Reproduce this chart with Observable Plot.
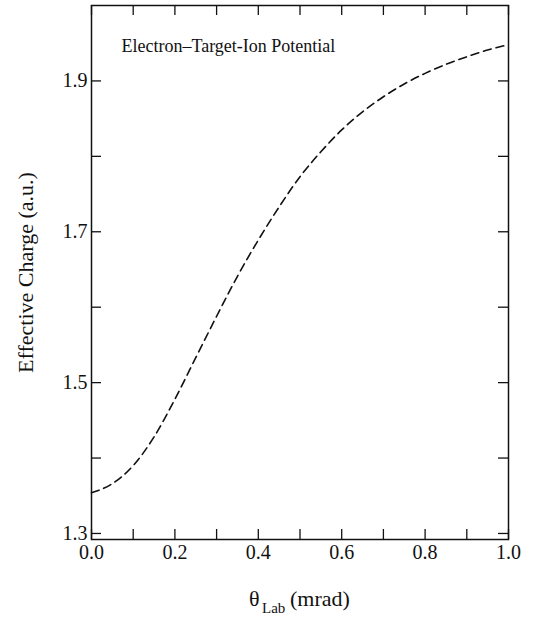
<!DOCTYPE html>
<html><head><meta charset="utf-8">
<script src="https://cdn.jsdelivr.net/npm/d3@7"></script>
<script src="https://cdn.jsdelivr.net/npm/@observablehq/plot@0.6"></script>
<style>body{margin:0;background:#fff} svg{display:block}</style>
</head><body><div id="chart"></div>
<script>
const theta  = [0.00, 0.05, 0.10, 0.15, 0.20, 0.25, 0.30, 0.35, 0.40, 0.45, 0.50, 0.55, 0.60, 0.65, 0.70, 0.75, 0.80, 0.85, 0.90, 0.95, 1.00];
const charge = [1.354, 1.366, 1.390, 1.428, 1.478, 1.533, 1.588, 1.641, 1.689, 1.733, 1.773, 1.806, 1.835, 1.859, 1.879, 1.896, 1.910, 1.922, 1.932, 1.941, 1.948];
const xTicks = [0.0, 0.1, 0.2, 0.3, 0.4, 0.5, 0.6, 0.7, 0.8, 0.9, 1.0];
const xTickLabels = [0.0, 0.2, 0.4, 0.6, 0.8, 1.0];
const yTicks = [1.3, 1.4, 1.5, 1.6, 1.7, 1.8, 1.9];
const yTickLabels = [1.3, 1.5, 1.7, 1.9];
const titleText = "Electron\u2013Target-Ion Potential";
const yLabel = "Effective Charge (a.u.)";
const xLabelSymbol = "\u03B8";
const xLabelSub = "Lab";
const xLabelUnit = "(mrad)";

const data = theta.map((t, i) => ({theta: t, charge: charge[i]}));
const W = 541, H = 619, mL = 91, mR = 33, mT = 5, mB = 80;
const frameW = W - mL - mR, frameH = H - mT - mB, tick = 10;
const ink = "#111";

const chart = Plot.plot({
  width: W, height: H,
  marginLeft: mL, marginRight: mR, marginTop: mT, marginBottom: mB,
  style: {fontFamily: "'Liberation Serif', 'DejaVu Serif', serif", background: "white", color: ink},
  x: {domain: [0, 1]},
  y: {domain: [1.292, 2.0]},
  marks: [
    Plot.tickX(xTicks, {x: d => d, insetTop: frameH - tick, stroke: ink, strokeWidth: 1.3}),
    Plot.tickX(xTicks, {x: d => d, insetBottom: frameH - tick, stroke: ink, strokeWidth: 1.3}),
    Plot.tickY(yTicks, {y: d => d, insetRight: frameW - tick, stroke: ink, strokeWidth: 1.3}),
    Plot.tickY(yTicks, {y: d => d, insetLeft: frameW - tick, stroke: ink, strokeWidth: 1.3}),
    Plot.axisX(xTickLabels, {tickSize: 0, tickPadding: 5, fontSize: 20, label: null, tickFormat: d3.format(".1f"), fill: ink}),
    Plot.axisY(yTickLabels, {tickSize: 0, tickPadding: 4, fontSize: 20, label: null, tickFormat: d3.format(".1f"), fill: ink}),
    Plot.frame({stroke: ink, strokeWidth: 1.5}),
    Plot.line(data, {x: "theta", y: "charge", stroke: ink, strokeWidth: 1.6, strokeDasharray: "8,5", curve: "monotone-x"}),
    Plot.text([titleText], {text: d => d, frameAnchor: "top-left", dx: 30, dy: 46, textAnchor: "start", lineAnchor: "bottom", fontSize: 18, fill: ink}),
    Plot.text([yLabel], {text: d => d, frameAnchor: "left", dx: -66, rotate: -90, textAnchor: "middle", lineAnchor: "middle", fontSize: 22, fill: ink}),
    Plot.text([xLabelSymbol], {text: d => d, frameAnchor: "bottom", dx: -51, dy: 66, textAnchor: "start", lineAnchor: "bottom", fontSize: 22, fill: ink}),
    Plot.text([xLabelSub], {text: d => d, frameAnchor: "bottom", dx: -38, dy: 73, textAnchor: "start", lineAnchor: "bottom", fontSize: 15, fill: ink}),
    Plot.text([xLabelUnit], {text: d => d, frameAnchor: "bottom", dx: -10, dy: 66, textAnchor: "start", lineAnchor: "bottom", fontSize: 22, fill: ink})
  ]
});
document.getElementById("chart").appendChild(chart);
</script>
</body></html>
